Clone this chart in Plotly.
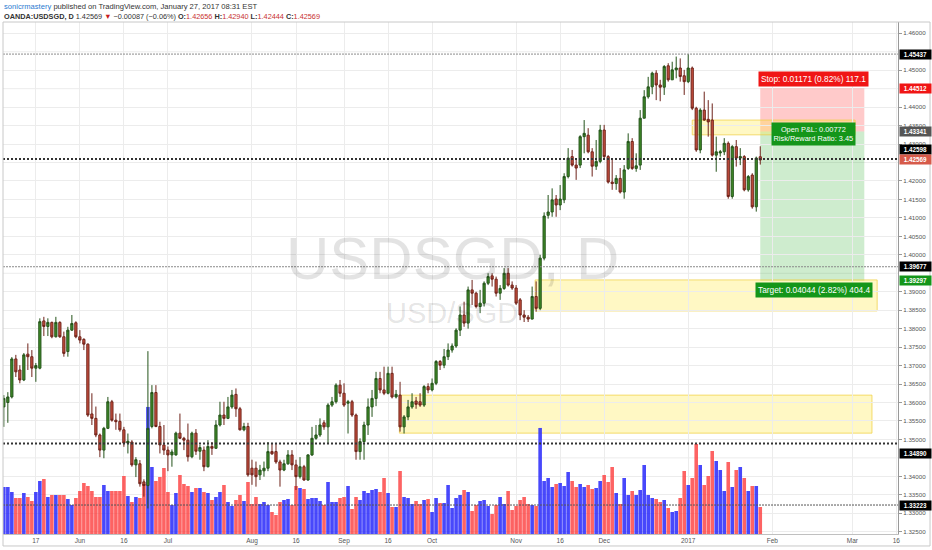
import pandas as pd
import plotly.graph_objects as go

# ---------------- data ----------------
holidays = ["2016-12-26", "2017-01-02"]
dates = [d.strftime("%Y-%m-%d") for d in pd.bdate_range("2016-05-05", "2017-01-27")
         if d.strftime("%Y-%m-%d") not in holidays]

opens = [1.3588, 1.3600, 1.3615, 1.3718, 1.3688, 1.3661, 1.3731, 1.3724, 1.3693, 1.3693,
         1.3821, 1.3806, 1.3817, 1.3778, 1.3817, 1.3778, 1.3738, 1.3796, 1.3816, 1.3778,
         1.3771, 1.3758, 1.3569, 1.3557, 1.3512, 1.3471, 1.3530, 1.3602, 1.3552, 1.3549,
         1.3526, 1.3490, 1.3493, 1.3431, 1.3434, 1.3385, 1.3375, 1.3535, 1.3627, 1.3535,
         1.3485, 1.3471, 1.3458, 1.3458, 1.3517, 1.3503, 1.3498, 1.3453, 1.3517, 1.3468,
         1.3471, 1.3426, 1.3481, 1.3476, 1.3539, 1.3566, 1.3557, 1.3588, 1.3622, 1.3583,
         1.3526, 1.3535, 1.3422, 1.3422, 1.3404, 1.3415, 1.3422, 1.3467, 1.3467, 1.3439,
         1.3417, 1.3434, 1.3458, 1.3431, 1.3399, 1.3426, 1.3390, 1.3458, 1.3503, 1.3512,
         1.3545, 1.3534, 1.3593, 1.3602, 1.3647, 1.3625, 1.3598, 1.3602, 1.3566, 1.3467,
         1.3494, 1.3539, 1.3588, 1.3611, 1.3665, 1.3634, 1.3625, 1.3679, 1.3615, 1.3620,
         1.3534, 1.3561, 1.3588, 1.3604, 1.3602, 1.3593, 1.3643, 1.3634, 1.3652, 1.3711,
         1.3701, 1.3724, 1.3742, 1.3753, 1.3796, 1.3837, 1.3815, 1.3905, 1.3896, 1.3860,
         1.3869, 1.3923, 1.3943, 1.3934, 1.3896, 1.3909, 1.3950, 1.3918, 1.3910, 1.3878,
         1.3837, 1.3831, 1.3826, 1.3887, 1.3855, 1.3991, 1.4107, 1.4116, 1.4151, 1.4135,
         1.4149, 1.4212, 1.4266, 1.4243, 1.4243, 1.4320, 1.4324, 1.4279, 1.4240, 1.4253,
         1.4338, 1.4266, 1.4197, 1.4193, 1.4207, 1.4170, 1.4234, 1.4307, 1.4234, 1.4243,
         1.4370, 1.4428, 1.4455, 1.4492, 1.4460, 1.4454, 1.4512, 1.4474, 1.4501, 1.4506,
         1.4485, 1.4469, 1.4506, 1.4397, 1.4284, 1.4392, 1.4367, 1.4365, 1.4270, 1.4276,
         1.4279, 1.4302, 1.4158, 1.4293, 1.4262, 1.4266, 1.4176, 1.4216, 1.4130, 1.42656]

highs = [1.3620, 1.3628, 1.3723, 1.3729, 1.3701, 1.3734, 1.3760, 1.3742, 1.3707, 1.3828,
         1.3832, 1.3828, 1.3819, 1.3832, 1.3820, 1.3792, 1.3805, 1.3837, 1.3820, 1.3796,
         1.3774, 1.3760, 1.3625, 1.3589, 1.3516, 1.3534, 1.3615, 1.3607, 1.3570, 1.3570,
         1.3534, 1.3516, 1.3498, 1.3452, 1.3444, 1.3392, 1.3739, 1.3647, 1.3647, 1.3548,
         1.3539, 1.3481, 1.3473, 1.3521, 1.3570, 1.3507, 1.3543, 1.3521, 1.3528, 1.3485,
         1.3481, 1.3498, 1.3493, 1.3552, 1.3602, 1.3602, 1.3615, 1.3634, 1.3638, 1.3588,
         1.3545, 1.3545, 1.3445, 1.3440, 1.3431, 1.3440, 1.3493, 1.3489, 1.3489, 1.3445,
         1.3445, 1.3471, 1.3471, 1.3445, 1.3452, 1.3431, 1.3460, 1.3534, 1.3539, 1.3557,
         1.3552, 1.3598, 1.3615, 1.3652, 1.3661, 1.3652, 1.3607, 1.3607, 1.3570, 1.3503,
         1.3548, 1.3611, 1.3634, 1.3683, 1.3683, 1.3697, 1.3697, 1.3697, 1.3634, 1.3656,
         1.3566, 1.3607, 1.3625, 1.3615, 1.3625, 1.3647, 1.3652, 1.3665, 1.3715, 1.3715,
         1.3745, 1.3760, 1.3760, 1.3801, 1.3860, 1.3873, 1.3914, 1.3932, 1.3900, 1.3905,
         1.3928, 1.3950, 1.3950, 1.3941, 1.3918, 1.3964, 1.3964, 1.3928, 1.3918, 1.3883,
         1.3850, 1.3837, 1.3914, 1.3928, 1.4000, 1.4115, 1.4162, 1.4180, 1.4162, 1.4189,
         1.4221, 1.4289, 1.4284, 1.4262, 1.4324, 1.4365, 1.4343, 1.4289, 1.4311, 1.4352,
         1.4352, 1.4270, 1.4262, 1.4216, 1.4235, 1.4243, 1.4329, 1.4316, 1.4275, 1.4392,
         1.4446, 1.4482, 1.4496, 1.4500, 1.4474, 1.4514, 1.4519, 1.4523, 1.4537, 1.4532,
         1.4501, 1.45437, 1.4510, 1.4401, 1.4397, 1.4442, 1.4419, 1.4410, 1.4320, 1.4284,
         1.4316, 1.4307, 1.4297, 1.4311, 1.4289, 1.4270, 1.4216, 1.4221, 1.4266, 1.42940]

lows = [1.3534, 1.3545, 1.3611, 1.3669, 1.3652, 1.3658, 1.3688, 1.3669, 1.3656, 1.3690,
        1.3780, 1.3780, 1.3774, 1.3776, 1.3775, 1.3724, 1.3724, 1.3794, 1.3774, 1.3760,
        1.3742, 1.3561, 1.3539, 1.3506, 1.3452, 1.3449, 1.3528, 1.3548, 1.3526, 1.3521,
        1.3480, 1.3462, 1.3426, 1.3398, 1.3372, 1.3345, 1.3313, 1.3530, 1.3533, 1.3462,
        1.3458, 1.3414, 1.3426, 1.3456, 1.3502, 1.3471, 1.3440, 1.3449, 1.3458, 1.3445,
        1.3414, 1.3424, 1.3458, 1.3474, 1.3535, 1.3539, 1.3555, 1.3583, 1.3561, 1.3524,
        1.3522, 1.3399, 1.3377, 1.3372, 1.3390, 1.3399, 1.3414, 1.3458, 1.3434, 1.3372,
        1.3414, 1.3431, 1.3417, 1.3363, 1.3394, 1.3388, 1.3388, 1.3455, 1.3499, 1.3507,
        1.3526, 1.3490, 1.3588, 1.3597, 1.3615, 1.3588, 1.3516, 1.3561, 1.3445, 1.3445,
        1.3445, 1.3512, 1.3561, 1.3590, 1.3625, 1.3620, 1.3622, 1.3611, 1.3611, 1.3521,
        1.3516, 1.3552, 1.3583, 1.3583, 1.3588, 1.3588, 1.3625, 1.3630, 1.3647, 1.3688,
        1.3693, 1.3715, 1.3735, 1.3748, 1.3780, 1.3805, 1.3800, 1.3864, 1.3855, 1.3842,
        1.3860, 1.3918, 1.3914, 1.3887, 1.3878, 1.3905, 1.3914, 1.3905, 1.3864, 1.3823,
        1.3818, 1.3818, 1.3825, 1.3846, 1.3850, 1.3985, 1.4098, 1.4103, 1.4103, 1.4121,
        1.4140, 1.4207, 1.4239, 1.4203, 1.4235, 1.4275, 1.4275, 1.4212, 1.4230, 1.4248,
        1.4262, 1.4193, 1.4176, 1.4176, 1.4166, 1.4152, 1.4230, 1.4230, 1.4225, 1.4230,
        1.4370, 1.4423, 1.4435, 1.4419, 1.4416, 1.4433, 1.4469, 1.4474, 1.4478, 1.4469,
        1.4433, 1.4465, 1.4392, 1.4279, 1.4275, 1.4363, 1.4320, 1.4266, 1.4225, 1.4266,
        1.4270, 1.4152, 1.4152, 1.4239, 1.4243, 1.4172, 1.4171, 1.4125, 1.4117, 1.42444]

closes = [1.3611, 1.3615, 1.3718, 1.3683, 1.3661, 1.3729, 1.3724, 1.3693, 1.3700, 1.3819,
          1.3806, 1.3817, 1.3778, 1.3817, 1.3778, 1.3733, 1.3796, 1.3814, 1.3778, 1.3769,
          1.3758, 1.3566, 1.3557, 1.3512, 1.3471, 1.3530, 1.3602, 1.3552, 1.3548, 1.3526,
          1.3490, 1.3495, 1.3431, 1.3445, 1.3380, 1.3375, 1.3530, 1.3627, 1.3535, 1.3485,
          1.3471, 1.3458, 1.3466, 1.3517, 1.3503, 1.3498, 1.3453, 1.3517, 1.3468, 1.3478,
          1.3426, 1.3481, 1.3476, 1.3539, 1.3566, 1.3557, 1.3588, 1.3620, 1.3583, 1.3526,
          1.3535, 1.3404, 1.3404, 1.3399, 1.3417, 1.3422, 1.3467, 1.3461, 1.3439, 1.3417,
          1.3434, 1.3458, 1.3431, 1.3399, 1.3426, 1.3390, 1.3458, 1.3503, 1.3512, 1.3539,
          1.3534, 1.3593, 1.3602, 1.3647, 1.3625, 1.3593, 1.3602, 1.3566, 1.3467, 1.3494,
          1.3539, 1.3588, 1.3611, 1.3665, 1.3634, 1.3625, 1.3679, 1.3615, 1.3622, 1.3534,
          1.3561, 1.3588, 1.3602, 1.3595, 1.3593, 1.3643, 1.3634, 1.3652, 1.3711, 1.3701,
          1.3724, 1.3742, 1.3753, 1.3796, 1.3837, 1.3815, 1.3905, 1.3896, 1.3860, 1.3869,
          1.3923, 1.3941, 1.3934, 1.3896, 1.3909, 1.3950, 1.3918, 1.3910, 1.3869, 1.3837,
          1.3831, 1.3826, 1.3887, 1.3855, 1.3991, 1.4105, 1.4116, 1.4149, 1.4135, 1.4151,
          1.4212, 1.4262, 1.4243, 1.4235, 1.4320, 1.4329, 1.4279, 1.4240, 1.4253, 1.4338,
          1.4266, 1.4197, 1.4193, 1.4207, 1.4170, 1.4230, 1.4307, 1.4234, 1.4241, 1.4370,
          1.4428, 1.4455, 1.4492, 1.4460, 1.4454, 1.4510, 1.4474, 1.4501, 1.4506, 1.4483,
          1.4469, 1.4506, 1.4397, 1.4284, 1.4392, 1.4365, 1.4360, 1.4270, 1.4279, 1.4279,
          1.4302, 1.4158, 1.4293, 1.4262, 1.4266, 1.4176, 1.4212, 1.4130, 1.4262, 1.42569]

volume_k = [47, 47, 42, 36, 36, 41, 37, 33, 42, 53,
            55, 37, 39, 39, 39, 39, 35, 29, 36, 43,
            51, 48, 43, 37, 37, 49, 43, 43, 43, 43,
            58, 38, 32, 37, 36, 50, 127, 67, 53, 57,
            66, 42, 29, 41, 59, 50, 48, 42, 46, 46,
            42, 41, 34, 37, 42, 49, 32, 28, 34, 39,
            33, 52, 30, 37, 30, 32, 29, 22, 19, 32,
            34, 35, 29, 48, 46, 45, 35, 36, 36, 33,
            29, 52, 32, 32, 36, 37, 48, 25, 37, 34,
            43, 41, 44, 45, 42, 56, 41, 27, 27, 63,
            37, 36, 30, 33, 30, 34, 35, 22, 36, 31,
            31, 49, 26, 36, 39, 44, 42, 23, 29, 33,
            34, 28, 20, 29, 37, 30, 43, 24, 28, 34,
            37, 30, 29, 28, 106, 53, 56, 47, 50, 51,
            48, 62, 53, 47, 50, 47, 49, 45, 46, 53,
            59, 52, 67, 41, 30, 56, 39, 43, 39, 44,
            69, 39, 36, 35, 32, 34, 26, 22, 23, 36,
            63, 49, 56, 90, 69, 49, 58, 83, 73, 64,
            43, 72, 47, 64, 67, 56, 43, 48, 48, 27]

tick_dates = ["2016-05-17", "2016-06-01", "2016-06-16", "2016-07-01", "2016-08-01",
              "2016-08-16", "2016-09-01", "2016-09-16", "2016-10-03", "2016-11-01",
              "2016-11-16", "2016-12-01", "2017-01-03", "2017-02-01", "2017-03-01",
              "2017-03-16"]
tick_labels = ["17", "Jun", "16", "Jul", "Aug", "16", "Sep", "16", "Oct", "Nov",
               "16", "Dec", "2017", "Feb", "Mar", "16"]

# price-scale ticks that stay visible (the others sit under the level labels)
price_ticks = [1.46, 1.45, 1.44, 1.435, 1.43, 1.42, 1.415, 1.41, 1.405, 1.40,
               1.39, 1.385, 1.38, 1.375, 1.37, 1.365, 1.36, 1.355, 1.35,
               1.34, 1.335, 1.33, 1.325]
covered_grid = [1.455, 1.445, 1.425, 1.395, 1.345]

level_prices = [1.45437, 1.42598, 1.39677, 1.34890, 1.33223]
entry_price, stop_price, target_price = 1.43341, 1.44512, 1.39297
last_price = 1.42569

zone_start = ["2017-01-04", "2016-11-07 18:00", "2016-09-20 20:00"]
zone_end = ["2017-03-01 17:00", "2017-03-09 05:00", "2017-03-07 22:00"]
zone_low = [1.4325, 1.3848, 1.3517]
zone_high = [1.4365, 1.3932, 1.3620]
position_start, position_end = "2017-01-27", "2017-03-06"
label_date = "2017-02-15 10:00"

# ---------------- styles ----------------
FONT = "Liberation Sans, Arial, sans-serif"
BLUE_VOL = "rgba(40,40,250,0.85)"
RED_VOL = "rgba(252,60,60,0.8)"
level_styles = [
    dict(color="#8a8a8a", width=1, dash="2px,1px"),
    dict(color="#333333", width=2, dash="2px,2px"),
    dict(color="#8a8a8a", width=1, dash="2px,1px"),
    dict(color="#333333", width=2, dash="2px,2px"),
    dict(color="#555555", width=1, dash="2px,1px"),
]

vol_colors = [BLUE_VOL if c >= o else RED_VOL for o, c in zip(opens, closes)]

fig = go.Figure()
fig.add_trace(go.Bar(x=dates, y=volume_k, marker=dict(color=vol_colors, line=dict(width=0)),
                     yaxis="y", hoverinfo="skip"))
fig.add_trace(go.Candlestick(
    x=dates, open=opens, high=highs, low=lows, close=closes, yaxis="y2",
    increasing=dict(line=dict(color="#24531a", width=1), fillcolor="#3f8c27"),
    decreasing=dict(line=dict(color="#6e2219", width=1), fillcolor="#c9513f"),
    whiskerwidth=0))

shapes = []
for g in covered_grid:
    shapes.append(dict(type="line", xref="paper", yref="y2", x0=0, x1=1, y0=g, y1=g,
                       line=dict(color="#ececec", width=1), layer="below"))
# position tool boxes
shapes.append(dict(type="rect", xref="x", yref="y2", x0=position_start, x1=position_end,
                   y0=entry_price, y1=stop_price, fillcolor="rgba(255,80,80,0.3)",
                   line=dict(width=0), layer="below"))
shapes.append(dict(type="rect", xref="x", yref="y2", x0=position_start, x1=position_end,
                   y0=target_price, y1=entry_price, fillcolor="rgba(30,170,30,0.22)",
                   line=dict(width=0), layer="below"))
# yellow zones
for xs, xe, lo, hi in zip(zone_start, zone_end, zone_low, zone_high):
    shapes.append(dict(type="rect", xref="x", yref="y2", x0=xs, x1=xe, y0=lo, y1=hi,
                       fillcolor="rgba(255,232,60,0.3)",
                       line=dict(color="rgba(240,205,60,0.7)", width=1), layer="below"))
# horizontal levels
for p, st in zip(level_prices, level_styles):
    shapes.append(dict(type="line", xref="paper", yref="y2", x0=0, x1=1, y0=p, y1=p,
                       line=st, layer="above"))
# pane border
shapes.append(dict(type="rect", xref="paper", yref="paper", x0=0, x1=1.0358,
                   y0=-0.0234, y1=1, line=dict(color="#c8c8c8", width=1)))

ann = []
# header
ann.append(dict(xref="paper", yref="paper", x=-0.001, y=1.031, xanchor="left", yanchor="middle",
                showarrow=False, align="left",
                font=dict(family=FONT, size=7.6, color="#333"),
                text="<span style='color:#2a7bd0'>sonicrmastery</span> published on TradingView.com, January 27, 2017 08:31 EST"))
ann.append(dict(xref="paper", yref="paper", x=-0.001, y=1.0117, xanchor="left", yanchor="middle",
                showarrow=False, align="left",
                font=dict(family=FONT, size=7.3, color="#333"),
                text=("<b>OANDA:USDSGD, D</b> 1.42569 <span style='color:#c81e1e'>▼</span> −0.00087 (−0.06%) "
                      "<b>O:</b><span style='color:#c83232'>1.42656</span> "
                      "<b>H:</b><span style='color:#c83232'>1.42940</span> "
                      "<b>L:</b><span style='color:#c83232'>1.42444</span> "
                      "<b>C:</b><span style='color:#c83232'>1.42569</span>")))
# watermark
ann.append(dict(xref="paper", yref="paper", x=0.5017, y=0.539, showarrow=False,
                text="USDSGD, D", font=dict(family=FONT, size=60, color="rgba(0,0,0,0.11)")))
ann.append(dict(xref="paper", yref="paper", x=0.5017, y=0.4316, showarrow=False,
                text="USD/SGD", font=dict(family=FONT, size=29, color="rgba(0,0,0,0.11)")))
# position labels
ann.append(dict(xref="x", yref="y2", x=label_date, y=stop_price, yanchor="bottom", yshift=1,
                showarrow=False, text="Stop: 0.01171 (0.82%) 117.1", bgcolor="#f01515",
                borderpad=2, font=dict(family=FONT, size=8.3, color="white")))
ann.append(dict(xref="x", yref="y2", x=label_date, y=entry_price, yanchor="middle", yshift=-3,
                showarrow=False, text="Open P&L: 0.00772<br>Risk/Reward Ratio: 3.45",
                bgcolor="#14961a", borderpad=1.5,
                font=dict(family=FONT, size=7.4, color="white")))
ann.append(dict(xref="x", yref="y2", x=label_date, y=target_price, yanchor="top", yshift=-1,
                showarrow=False, text="Target: 0.04044 (2.82%) 404.4", bgcolor="#14961a",
                borderpad=2, font=dict(family=FONT, size=8.3, color="white")))
# right-axis price labels
axis_labels = [
    (level_prices[0], "#000000", 0),
    (stop_price, "#f01515", 0),
    (entry_price, "#555555", 0),
    (level_prices[1], "#000000", 9),
    (last_price, "#d65a4a", 0),
    (level_prices[2], "#000000", 0),
    (target_price, "#14961a", 0),
    (level_prices[3], "#000000", -10),
    (level_prices[4], "#000000", 0),
]
for p, col, shift in axis_labels:
    ann.append(dict(xref="paper", yref="y2", x=1, xanchor="left", xshift=1, y=p, yshift=shift,
                    showarrow=False, text="<b>%.5f</b>" % p, bgcolor=col, width=29,
                    borderpad=1, font=dict(family=FONT, size=6.3, color="white")))

fig.update_layout(
    width=932, height=550,
    margin=dict(l=3, r=34, t=22, b=16),
    paper_bgcolor="white", plot_bgcolor="white",
    showlegend=False, bargap=0.1, boxgap=0.22,
    font=dict(family=FONT),
    xaxis=dict(type="date", range=["2016-05-04 19:00", "2017-03-16 10:00"],
               rangebreaks=[dict(bounds=["sat", "mon"]), dict(values=holidays)],
               tickmode="array", tickvals=tick_dates, ticktext=tick_labels,
               showgrid=True, gridcolor="#ececec", gridwidth=1, zeroline=False,
               ticks="", showline=True, linecolor="#c0c0c0",
               tickfont=dict(family=FONT, size=6.5, color="#555"),
               rangeslider=dict(visible=False)),
    yaxis=dict(range=[0, max(volume_k) * 4.03], visible=False, showgrid=False,
               zeroline=False),
    yaxis2=dict(overlaying="y", side="right", range=[1.32438, 1.46306],
                tickmode="array", tickvals=price_ticks, tickformat=".5f",
                showgrid=True, gridcolor="#ececec", zeroline=False,
                ticks="outside", ticklen=3, tickcolor="#999",
                showline=True, linecolor="#999",
                tickfont=dict(family=FONT, size=6.2, color="#555")),
    shapes=shapes, annotations=ann,
)

fig.write_html("out.html", config={"displayModeBar": False},
               post_script="document.body.style.margin='0';document.body.style.padding='0';")
